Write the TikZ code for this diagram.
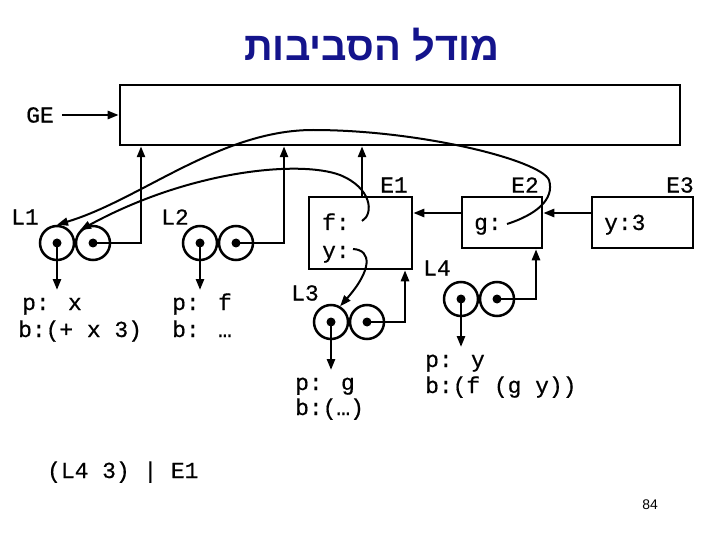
\documentclass[tikz,border=0pt]{standalone}
\usepackage{fontspec}
\setmainfont{Liberation Sans}
\newfontfamily\monof[FakeBold=0.6]{Liberation Mono}
\newfontfamily\hebf[Script=Hebrew]{Liberation Sans}
\TeXXeTstate=1
\usetikzlibrary{arrows.meta}
\definecolor{titleblue}{RGB}{20,20,140}
\begin{document}
\begin{tikzpicture}[x=1bp,y=-1bp,
  envbox/.style={draw,line width=2.5bp,inner sep=0pt},
  cell/.style={draw,circle,line width=2.5bp,minimum size=34bp,inner sep=0pt},
  pt/.style={fill,circle,inner sep=0pt,minimum size=9bp},
  lbl/.style={font=\monof\fontsize{23}{26}\selectfont,inner sep=0pt},
  txt/.style={lbl,anchor=base west},
  link/.style={line width=2.5bp,-{Triangle[length=11bp,width=8bp]}},
  curv/.style={line width=2bp,-{Triangle[length=11bp,width=8bp]}}
]
\useasboundingbox (0,0) rectangle (720,540);
% title
\node[font=\hebf\bfseries\fontsize{40}{44}\selectfont,text=titleblue] (title) at (372,45) {\beginR מודל הסביבות\endR};
% global environment
\node[envbox,minimum width=560bp,minimum height=60bp] (GE) at (400,115) {};
\node[lbl] (GElbl) at (40,115) {GE};
\draw[link] (GElbl.east) ++(8,0) coordinate (gestart) (gestart) -- (GE.west);
% frames
\node[envbox,minimum width=103bp,minimum height=72bp] (E1) at (360.5,233) {};
\node[envbox,minimum width=80bp,minimum height=51bp] (E2) at (502,222.5) {};
\node[envbox,minimum width=101bp,minimum height=51bp] (E3) at (642.5,222.5) {};
\node[lbl] (E1lbl) at (394,185) {E1};
\node[lbl] (E2lbl) at (525,185) {E2};
\node[lbl] (E3lbl) at (680,185) {E3};
\node[txt] (fb) at (322,230) {f:};
\node[txt] (yb) at (322,258) {y:};
\node[txt] (gb) at (474,230) {g:};
\node[txt] (y3) at (604,230) {y:3};
\draw[link] ([yshift=9.5bp]E2.west) -- ([yshift=9.5bp]E2.west -| E1.east);
\draw[link] ([yshift=9.5bp]E3.west) -- ([yshift=9.5bp]E3.west -| E2.east);
\draw[link] (E1.north -| 362,0) -- (GE.south -| 362,0);
% closures
\node[cell] (L1a) at (57,243) {};
\node[cell] (L1b) at (93,243) {};
\node[cell] (L2a) at (200,243) {};
\node[cell] (L2b) at (236,243) {};
\node[cell] (L3a) at (331,322) {};
\node[cell] (L3b) at (367,322) {};
\node[cell] (L4a) at (461,299) {};
\node[cell] (L4b) at (497,299) {};
\node[lbl] (L1lbl) at (25,217) {L1};
\node[lbl] (L2lbl) at (175,217) {L2};
\node[lbl] (L3lbl) at (305,293) {L3};
\node[lbl] (L4lbl) at (437,268) {L4};
% pointers to environments
\draw[link] (L1b.center) -| (GE.south -| 141,0);
\draw[link] (L2b.center) -| (GE.south -| 284,0);
\draw[link] (L3b.center) -| (E1.south -| 405,0);
\draw[link] (L4b.center) -| (E2.south -| 536,0);
% pointers to code
\draw[link] (L1a.center) -- ++(0,47) coordinate (c1);
\draw[link] (L2a.center) -- ++(0,47) coordinate (c2);
\draw[link] (L3a.center) -- ++(0,48) coordinate (c3);
\draw[link] (L4a.center) -- ++(0,48) coordinate (c4);
\foreach \n in {L1a,L1b,L2a,L2b,L3a,L3b,L4a,L4b} \node[pt] at (\n.center) {};
% code texts
\node[txt] (p1) at (22,310) {p: x};
\node[txt] (b1) at (18,337) {b:(+ x 3)};
\node[txt] (p2) at (172,310) {p: f};
\node[txt] (b2) at (172,337) {b: …};
\node[txt] (p3) at (295,390) {p: g};
\node[txt] (b3) at (295,415) {b:(…)};
\node[txt] (p4) at (425,367) {p: y};
\node[txt] (b4) at (425,393) {b:(f (g y))};
% binding curves
\coordinate (gptr) at (507,224);
\coordinate (fptr) at (362,221);
\coordinate (yptr) at (353,249);
\draw[curv] (gptr) .. controls (535,215) and (555,200) .. (549,180)
  .. controls (540,160) and (420,130) .. (313,130)
  .. controls (220,130) and (140,200) .. (L1a.north);
\draw[curv] (fptr) .. controls (374,214) and (372,188) .. (340,175)
  .. controls (300,160) and (190,170) .. (L1b.north west);
\draw[curv] (yptr) .. controls (372,250) and (372,270) .. (L3a.60);
% bottom
\node[txt] (expr) at (47,478) {(L4 3) | E1};
\node[font=\fontsize{14}{16}\selectfont] (pg) at (650,505) {84};
\end{tikzpicture}
\end{document}
